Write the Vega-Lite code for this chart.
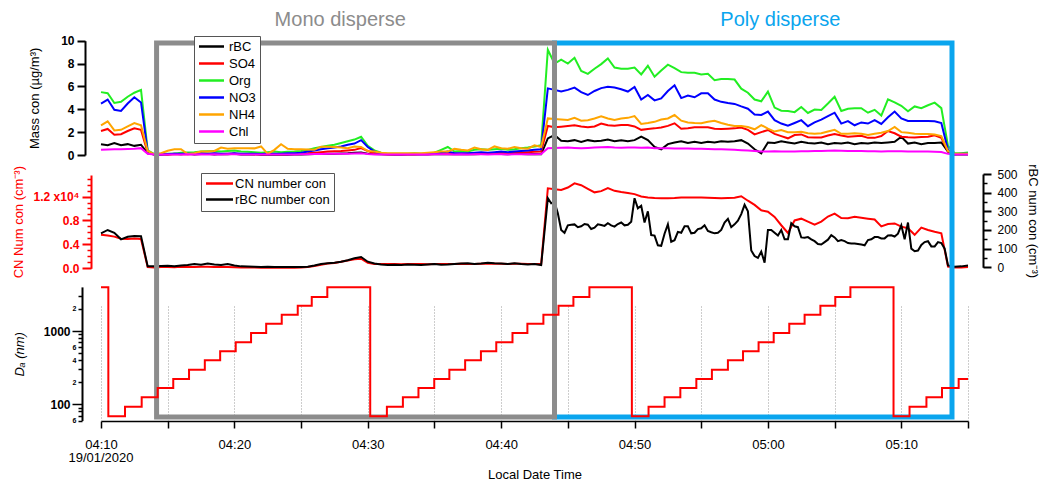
{
"autosize": "none",
"padding": {"left": 101, "top": 40, "right": 76, "bottom": 61},
"width": 867,
"height": 381,
"background": "white",
"encoding": {
"x": {"field": "t", "type": "temporal",
 "scale": {"domain": [{"year":2020,"month":1,"date":19,"hours":4,"minutes":10},{"year":2020,"month":1,"date":19,"hours":5,"minutes":15}], "nice": false},
 "axis": {"title": "Local Date Time",
  "values": [{"year":2020,"month":1,"date":19,"hours":4,"minutes":10},{"year":2020,"month":1,"date":19,"hours":4,"minutes":15},{"year":2020,"month":1,"date":19,"hours":4,"minutes":20},{"year":2020,"month":1,"date":19,"hours":4,"minutes":25},{"year":2020,"month":1,"date":19,"hours":4,"minutes":30},{"year":2020,"month":1,"date":19,"hours":4,"minutes":35},{"year":2020,"month":1,"date":19,"hours":4,"minutes":40},{"year":2020,"month":1,"date":19,"hours":4,"minutes":45},{"year":2020,"month":1,"date":19,"hours":4,"minutes":50},{"year":2020,"month":1,"date":19,"hours":4,"minutes":55},{"year":2020,"month":1,"date":19,"hours":5,"minutes":0},{"year":2020,"month":1,"date":19,"hours":5,"minutes":5},{"year":2020,"month":1,"date":19,"hours":5,"minutes":10},{"year":2020,"month":1,"date":19,"hours":5,"minutes":15}],
  "labelExpr": "minutes(datum.value) % 10 != 0 ? '' : timeFormat(datum.value, '%H:%M')",
  "grid": true, "gridDash": [1, 2], "gridColor": "#9a9a9a", "gridWidth": 1,
  "labelFontSize": 13, "labelFlush": false, "labelOverlap": false, "labelPadding": 10,
  "tickSize": 7, "tickWidth": 1.5, "domainWidth": 1.5,
  "titleFontSize": 13, "titleFontWeight": "normal", "titlePadding": 17}}
},
"layer": [
{
 "data": {"values": [
{"t":"2020-01-19T04:10:00","rBC":0.95,"SO4":2.1,"Org":5.5,"NO3":4.5,"NH4":2.6,"Chl":0.45},
{"t":"2020-01-19T04:10:30","rBC":0.85,"SO4":2.28,"Org":5.4,"NO3":4.85,"NH4":2.95,"Chl":0.48},
{"t":"2020-01-19T04:11:00","rBC":1.05,"SO4":1.78,"Org":4.55,"NO3":3.95,"NH4":2.15,"Chl":0.5},
{"t":"2020-01-19T04:11:30","rBC":0.85,"SO4":1.82,"Org":4.65,"NO3":3.85,"NH4":2.2,"Chl":0.5},
{"t":"2020-01-19T04:12:00","rBC":0.95,"SO4":2.1,"Org":5.1,"NO3":4.5,"NH4":2.5,"Chl":0.52},
{"t":"2020-01-19T04:12:30","rBC":0.8,"SO4":2.33,"Org":5.45,"NO3":5.05,"NH4":2.8,"Chl":0.55},
{"t":"2020-01-19T04:13:00","rBC":0.9,"SO4":2.2,"Org":5.7,"NO3":4.6,"NH4":2.6,"Chl":0.6},
{"t":"2020-01-19T04:13:30","rBC":0.15,"SO4":0.2,"Org":0.4,"NO3":0.3,"NH4":0.35,"Chl":0.1},
{"t":"2020-01-19T04:14:00","rBC":0.05,"SO4":0.05,"Org":0.08,"NO3":0.05,"NH4":0.05,"Chl":0.04},
{"t":"2020-01-19T04:14:30","rBC":0.08,"SO4":0.05,"Org":0.1,"NO3":0.05,"NH4":0.15,"Chl":0.04},
{"t":"2020-01-19T04:15:00","rBC":0.04,"SO4":0.05,"Org":0.1,"NO3":0.08,"NH4":0.37,"Chl":0.05},
{"t":"2020-01-19T04:15:30","rBC":0.1,"SO4":0.06,"Org":0.12,"NO3":0.1,"NH4":0.5,"Chl":0.05},
{"t":"2020-01-19T04:16:00","rBC":0.06,"SO4":0.08,"Org":0.2,"NO3":0.1,"NH4":0.5,"Chl":0.05},
{"t":"2020-01-19T04:16:30","rBC":0.12,"SO4":0.06,"Org":0.22,"NO3":0.12,"NH4":0.08,"Chl":0.06},
{"t":"2020-01-19T04:17:00","rBC":0.05,"SO4":0.08,"Org":0.25,"NO3":0.1,"NH4":0.15,"Chl":0.05},
{"t":"2020-01-19T04:17:30","rBC":0.08,"SO4":0.1,"Org":0.3,"NO3":0.15,"NH4":0.3,"Chl":0.06},
{"t":"2020-01-19T04:18:00","rBC":0.1,"SO4":0.08,"Org":0.32,"NO3":0.12,"NH4":0.3,"Chl":0.05},
{"t":"2020-01-19T04:18:30","rBC":0.05,"SO4":0.1,"Org":0.35,"NO3":0.15,"NH4":0.35,"Chl":0.06},
{"t":"2020-01-19T04:19:00","rBC":0.09,"SO4":0.08,"Org":0.3,"NO3":0.1,"NH4":0.65,"Chl":0.05},
{"t":"2020-01-19T04:19:30","rBC":0.06,"SO4":0.1,"Org":0.35,"NO3":0.12,"NH4":0.55,"Chl":0.06},
{"t":"2020-01-19T04:20:00","rBC":0.1,"SO4":0.1,"Org":0.4,"NO3":0.15,"NH4":0.58,"Chl":0.06},
{"t":"2020-01-19T04:20:30","rBC":0.05,"SO4":0.08,"Org":0.3,"NO3":0.12,"NH4":0.58,"Chl":0.05},
{"t":"2020-01-19T04:21:00","rBC":0.04,"SO4":0.08,"Org":0.28,"NO3":0.1,"NH4":0.6,"Chl":0.05},
{"t":"2020-01-19T04:21:30","rBC":0.06,"SO4":0.06,"Org":0.25,"NO3":0.1,"NH4":0.58,"Chl":0.04},
{"t":"2020-01-19T04:22:00","rBC":0.03,"SO4":0.06,"Org":0.2,"NO3":0.08,"NH4":0.75,"Chl":0.04},
{"t":"2020-01-19T04:22:30","rBC":0.05,"SO4":0.08,"Org":0.25,"NO3":0.1,"NH4":0.1,"Chl":0.05},
{"t":"2020-01-19T04:23:00","rBC":0.03,"SO4":0.08,"Org":0.3,"NO3":0.12,"NH4":0.45,"Chl":0.05},
{"t":"2020-01-19T04:23:30","rBC":0.04,"SO4":0.06,"Org":0.25,"NO3":0.1,"NH4":0.95,"Chl":0.04},
{"t":"2020-01-19T04:24:00","rBC":0.03,"SO4":0.08,"Org":0.28,"NO3":0.15,"NH4":0.55,"Chl":0.05},
{"t":"2020-01-19T04:24:30","rBC":0.05,"SO4":0.1,"Org":0.3,"NO3":0.15,"NH4":0.5,"Chl":0.05},
{"t":"2020-01-19T04:25:00","rBC":0.04,"SO4":0.12,"Org":0.35,"NO3":0.2,"NH4":0.5,"Chl":0.06},
{"t":"2020-01-19T04:25:30","rBC":0.06,"SO4":0.15,"Org":0.45,"NO3":0.3,"NH4":0.48,"Chl":0.07},
{"t":"2020-01-19T04:26:00","rBC":0.08,"SO4":0.2,"Org":0.6,"NO3":0.4,"NH4":0.45,"Chl":0.08},
{"t":"2020-01-19T04:26:30","rBC":0.1,"SO4":0.25,"Org":0.7,"NO3":0.5,"NH4":0.73,"Chl":0.09},
{"t":"2020-01-19T04:27:00","rBC":0.12,"SO4":0.3,"Org":0.82,"NO3":0.58,"NH4":0.72,"Chl":0.1},
{"t":"2020-01-19T04:27:30","rBC":0.1,"SO4":0.32,"Org":0.9,"NO3":0.65,"NH4":0.7,"Chl":0.1},
{"t":"2020-01-19T04:28:00","rBC":0.14,"SO4":0.35,"Org":1.05,"NO3":0.75,"NH4":0.65,"Chl":0.11},
{"t":"2020-01-19T04:28:30","rBC":0.15,"SO4":0.4,"Org":1.2,"NO3":0.9,"NH4":0.6,"Chl":0.12},
{"t":"2020-01-19T04:29:00","rBC":0.2,"SO4":0.45,"Org":1.35,"NO3":1.0,"NH4":0.75,"Chl":0.13},
{"t":"2020-01-19T04:29:30","rBC":0.22,"SO4":0.6,"Org":1.6,"NO3":1.3,"NH4":0.7,"Chl":0.15},
{"t":"2020-01-19T04:30:00","rBC":0.12,"SO4":0.35,"Org":0.8,"NO3":0.7,"NH4":0.35,"Chl":0.08},
{"t":"2020-01-19T04:30:30","rBC":0.08,"SO4":0.15,"Org":0.4,"NO3":0.3,"NH4":0.3,"Chl":0.05},
{"t":"2020-01-19T04:31:00","rBC":0.06,"SO4":0.08,"Org":0.2,"NO3":0.12,"NH4":0.2,"Chl":0.04},
{"t":"2020-01-19T04:31:30","rBC":0.05,"SO4":0.06,"Org":0.12,"NO3":0.08,"NH4":0.15,"Chl":0.05},
{"t":"2020-01-19T04:32:00","rBC":0.07,"SO4":0.05,"Org":0.1,"NO3":0.06,"NH4":0.15,"Chl":0.04},
{"t":"2020-01-19T04:32:30","rBC":0.05,"SO4":0.05,"Org":0.12,"NO3":0.06,"NH4":0.15,"Chl":0.05},
{"t":"2020-01-19T04:33:00","rBC":0.06,"SO4":0.06,"Org":0.12,"NO3":0.08,"NH4":0.15,"Chl":0.04},
{"t":"2020-01-19T04:33:30","rBC":0.05,"SO4":0.06,"Org":0.15,"NO3":0.08,"NH4":0.15,"Chl":0.05},
{"t":"2020-01-19T04:34:00","rBC":0.07,"SO4":0.06,"Org":0.12,"NO3":0.06,"NH4":0.15,"Chl":0.05},
{"t":"2020-01-19T04:34:30","rBC":0.06,"SO4":0.06,"Org":0.1,"NO3":0.06,"NH4":0.2,"Chl":0.05},
{"t":"2020-01-19T04:35:00","rBC":0.08,"SO4":0.08,"Org":0.2,"NO3":0.1,"NH4":0.25,"Chl":0.06},
{"t":"2020-01-19T04:35:30","rBC":0.06,"SO4":0.12,"Org":0.45,"NO3":0.2,"NH4":0.3,"Chl":0.06},
{"t":"2020-01-19T04:36:00","rBC":0.07,"SO4":0.15,"Org":0.7,"NO3":0.3,"NH4":0.3,"Chl":0.07},
{"t":"2020-01-19T04:36:30","rBC":0.08,"SO4":0.1,"Org":0.3,"NO3":0.15,"NH4":0.55,"Chl":0.05},
{"t":"2020-01-19T04:37:00","rBC":0.06,"SO4":0.12,"Org":0.35,"NO3":0.15,"NH4":0.45,"Chl":0.06},
{"t":"2020-01-19T04:37:30","rBC":0.09,"SO4":0.12,"Org":0.3,"NO3":0.15,"NH4":0.4,"Chl":0.05},
{"t":"2020-01-19T04:38:00","rBC":0.07,"SO4":0.15,"Org":0.45,"NO3":0.2,"NH4":0.65,"Chl":0.06},
{"t":"2020-01-19T04:38:30","rBC":0.08,"SO4":0.15,"Org":0.5,"NO3":0.25,"NH4":0.5,"Chl":0.06},
{"t":"2020-01-19T04:39:00","rBC":0.1,"SO4":0.15,"Org":0.45,"NO3":0.2,"NH4":0.45,"Chl":0.05},
{"t":"2020-01-19T04:39:30","rBC":0.08,"SO4":0.18,"Org":0.5,"NO3":0.25,"NH4":0.75,"Chl":0.06},
{"t":"2020-01-19T04:40:00","rBC":0.09,"SO4":0.2,"Org":0.55,"NO3":0.3,"NH4":0.6,"Chl":0.06},
{"t":"2020-01-19T04:40:30","rBC":0.07,"SO4":0.18,"Org":0.45,"NO3":0.25,"NH4":0.55,"Chl":0.05},
{"t":"2020-01-19T04:41:00","rBC":0.1,"SO4":0.2,"Org":0.5,"NO3":0.3,"NH4":0.7,"Chl":0.06},
{"t":"2020-01-19T04:41:30","rBC":0.08,"SO4":0.22,"Org":0.6,"NO3":0.35,"NH4":0.6,"Chl":0.06},
{"t":"2020-01-19T04:42:00","rBC":0.07,"SO4":0.25,"Org":0.65,"NO3":0.4,"NH4":0.55,"Chl":0.07},
{"t":"2020-01-19T04:42:30","rBC":0.09,"SO4":0.28,"Org":0.75,"NO3":0.45,"NH4":0.85,"Chl":0.07},
{"t":"2020-01-19T04:43:00","rBC":0.06,"SO4":0.3,"Org":0.85,"NO3":0.5,"NH4":0.7,"Chl":0.08},
{"t":"2020-01-19T04:43:30","rBC":1.45,"SO4":2.54,"Org":9.2,"NO3":5.83,"NH4":3.2,"Chl":0.6},
{"t":"2020-01-19T04:44:00","rBC":1.75,"SO4":2.42,"Org":8.0,"NO3":5.7,"NH4":3.15,"Chl":0.62},
{"t":"2020-01-19T04:44:30","rBC":1.25,"SO4":2.48,"Org":8.35,"NO3":5.55,"NH4":3.1,"Chl":0.63},
{"t":"2020-01-19T04:45:00","rBC":1.2,"SO4":2.54,"Org":8.0,"NO3":5.7,"NH4":3.06,"Chl":0.65},
{"t":"2020-01-19T04:45:30","rBC":1.3,"SO4":2.6,"Org":8.5,"NO3":5.9,"NH4":3.25,"Chl":0.62},
{"t":"2020-01-19T04:46:00","rBC":1.15,"SO4":2.5,"Org":7.35,"NO3":5.5,"NH4":3.0,"Chl":0.6},
{"t":"2020-01-19T04:46:30","rBC":1.3,"SO4":2.42,"Org":7.1,"NO3":5.25,"NH4":3.05,"Chl":0.62},
{"t":"2020-01-19T04:47:00","rBC":1.2,"SO4":2.5,"Org":7.55,"NO3":5.6,"NH4":3.2,"Chl":0.65},
{"t":"2020-01-19T04:47:30","rBC":1.25,"SO4":2.75,"Org":7.95,"NO3":5.85,"NH4":3.38,"Chl":0.68},
{"t":"2020-01-19T04:48:00","rBC":1.35,"SO4":2.6,"Org":8.45,"NO3":5.98,"NH4":3.2,"Chl":0.7},
{"t":"2020-01-19T04:48:30","rBC":1.2,"SO4":2.55,"Org":7.65,"NO3":5.9,"NH4":3.06,"Chl":0.66},
{"t":"2020-01-19T04:49:00","rBC":1.3,"SO4":2.62,"Org":7.55,"NO3":5.75,"NH4":3.2,"Chl":0.64},
{"t":"2020-01-19T04:49:30","rBC":1.2,"SO4":2.62,"Org":7.55,"NO3":5.55,"NH4":3.25,"Chl":0.65},
{"t":"2020-01-19T04:50:00","rBC":1.3,"SO4":2.5,"Org":7.65,"NO3":5.95,"NH4":3.4,"Chl":0.66},
{"t":"2020-01-19T04:50:30","rBC":1.6,"SO4":2.2,"Org":7.05,"NO3":4.85,"NH4":2.72,"Chl":0.64},
{"t":"2020-01-19T04:51:00","rBC":1.3,"SO4":2.28,"Org":7.8,"NO3":5.25,"NH4":2.8,"Chl":0.65},
{"t":"2020-01-19T04:51:30","rBC":0.7,"SO4":2.33,"Org":6.85,"NO3":4.78,"NH4":2.9,"Chl":0.6},
{"t":"2020-01-19T04:52:00","rBC":0.5,"SO4":2.4,"Org":7.4,"NO3":4.95,"NH4":3.1,"Chl":0.6},
{"t":"2020-01-19T04:52:30","rBC":0.95,"SO4":2.55,"Org":7.9,"NO3":5.6,"NH4":3.2,"Chl":0.58},
{"t":"2020-01-19T04:53:00","rBC":1.1,"SO4":2.77,"Org":7.6,"NO3":6.1,"NH4":3.5,"Chl":0.57},
{"t":"2020-01-19T04:53:30","rBC":1.2,"SO4":2.3,"Org":7.25,"NO3":4.98,"NH4":3.0,"Chl":0.56},
{"t":"2020-01-19T04:54:00","rBC":1.05,"SO4":2.35,"Org":7.2,"NO3":5.2,"NH4":2.85,"Chl":0.56},
{"t":"2020-01-19T04:54:30","rBC":1.15,"SO4":2.42,"Org":7.2,"NO3":5.05,"NH4":2.8,"Chl":0.55},
{"t":"2020-01-19T04:55:00","rBC":1.05,"SO4":2.42,"Org":7.05,"NO3":5.4,"NH4":2.77,"Chl":0.55},
{"t":"2020-01-19T04:55:30","rBC":1.15,"SO4":2.42,"Org":7.1,"NO3":5.4,"NH4":2.9,"Chl":0.52},
{"t":"2020-01-19T04:56:00","rBC":1.1,"SO4":2.3,"Org":6.55,"NO3":4.85,"NH4":3.0,"Chl":0.5},
{"t":"2020-01-19T04:56:30","rBC":1.2,"SO4":2.28,"Org":6.65,"NO3":4.65,"NH4":2.8,"Chl":0.5},
{"t":"2020-01-19T04:57:00","rBC":1.15,"SO4":2.3,"Org":6.65,"NO3":4.55,"NH4":2.65,"Chl":0.48},
{"t":"2020-01-19T04:57:30","rBC":1.2,"SO4":2.33,"Org":6.6,"NO3":4.47,"NH4":2.54,"Chl":0.45},
{"t":"2020-01-19T04:58:00","rBC":1.3,"SO4":2.4,"Org":5.8,"NO3":4.25,"NH4":2.54,"Chl":0.42},
{"t":"2020-01-19T04:58:30","rBC":1.0,"SO4":2.2,"Org":5.45,"NO3":4.05,"NH4":2.45,"Chl":0.4},
{"t":"2020-01-19T04:59:00","rBC":0.5,"SO4":1.8,"Org":4.85,"NO3":3.55,"NH4":2.25,"Chl":0.35},
{"t":"2020-01-19T04:59:30","rBC":0.15,"SO4":2.0,"Org":4.7,"NO3":3.5,"NH4":2.62,"Chl":0.3},
{"t":"2020-01-19T05:00:00","rBC":1.1,"SO4":2.19,"Org":5.55,"NO3":3.8,"NH4":2.3,"Chl":0.3},
{"t":"2020-01-19T05:00:30","rBC":1.05,"SO4":1.85,"Org":4.15,"NO3":3.05,"NH4":2.05,"Chl":0.32},
{"t":"2020-01-19T05:01:00","rBC":1.2,"SO4":1.65,"Org":3.87,"NO3":2.75,"NH4":2.19,"Chl":0.3},
{"t":"2020-01-19T05:01:30","rBC":1.1,"SO4":1.46,"Org":3.85,"NO3":2.56,"NH4":2.0,"Chl":0.3},
{"t":"2020-01-19T05:02:00","rBC":1.0,"SO4":1.75,"Org":3.75,"NO3":2.8,"NH4":1.98,"Chl":0.3},
{"t":"2020-01-19T05:02:30","rBC":1.15,"SO4":1.8,"Org":4.2,"NO3":3.05,"NH4":2.04,"Chl":0.32},
{"t":"2020-01-19T05:03:00","rBC":1.05,"SO4":1.56,"Org":3.68,"NO3":2.52,"NH4":1.9,"Chl":0.33},
{"t":"2020-01-19T05:03:30","rBC":1.0,"SO4":1.54,"Org":3.98,"NO3":2.85,"NH4":1.86,"Chl":0.34},
{"t":"2020-01-19T05:04:00","rBC":1.1,"SO4":1.54,"Org":3.94,"NO3":3.1,"NH4":1.9,"Chl":0.35},
{"t":"2020-01-19T05:04:30","rBC":0.95,"SO4":1.7,"Org":4.5,"NO3":3.4,"NH4":2.05,"Chl":0.38},
{"t":"2020-01-19T05:05:00","rBC":1.05,"SO4":1.84,"Org":5.1,"NO3":3.7,"NH4":2.2,"Chl":0.4},
{"t":"2020-01-19T05:05:30","rBC":1.0,"SO4":1.7,"Org":3.85,"NO3":2.75,"NH4":1.85,"Chl":0.38},
{"t":"2020-01-19T05:06:00","rBC":1.1,"SO4":1.6,"Org":4.05,"NO3":2.97,"NH4":1.85,"Chl":0.36},
{"t":"2020-01-19T05:06:30","rBC":0.95,"SO4":1.65,"Org":4.08,"NO3":2.6,"NH4":1.9,"Chl":0.35},
{"t":"2020-01-19T05:07:00","rBC":1.05,"SO4":1.69,"Org":4.09,"NO3":2.85,"NH4":1.85,"Chl":0.34},
{"t":"2020-01-19T05:07:30","rBC":1.0,"SO4":1.5,"Org":3.7,"NO3":2.75,"NH4":1.76,"Chl":0.33},
{"t":"2020-01-19T05:08:00","rBC":1.1,"SO4":1.5,"Org":3.95,"NO3":3.05,"NH4":1.85,"Chl":0.32},
{"t":"2020-01-19T05:08:30","rBC":1.05,"SO4":1.66,"Org":3.45,"NO3":2.72,"NH4":1.95,"Chl":0.3},
{"t":"2020-01-19T05:09:00","rBC":1.1,"SO4":2.1,"Org":4.87,"NO3":3.3,"NH4":2.1,"Chl":0.32},
{"t":"2020-01-19T05:09:30","rBC":1.15,"SO4":1.9,"Org":4.6,"NO3":3.8,"NH4":2.45,"Chl":0.33},
{"t":"2020-01-19T05:10:00","rBC":1.6,"SO4":1.6,"Org":4.3,"NO3":3.2,"NH4":2.0,"Chl":0.32},
{"t":"2020-01-19T05:10:30","rBC":1.0,"SO4":1.56,"Org":3.82,"NO3":2.97,"NH4":1.95,"Chl":0.3},
{"t":"2020-01-19T05:11:00","rBC":1.1,"SO4":1.54,"Org":4.25,"NO3":2.97,"NH4":1.85,"Chl":0.3},
{"t":"2020-01-19T05:11:30","rBC":0.95,"SO4":1.57,"Org":4.1,"NO3":2.97,"NH4":1.84,"Chl":0.3},
{"t":"2020-01-19T05:12:00","rBC":1.05,"SO4":1.6,"Org":4.35,"NO3":2.97,"NH4":1.84,"Chl":0.3},
{"t":"2020-01-19T05:12:30","rBC":1.05,"SO4":1.72,"Org":4.58,"NO3":2.95,"NH4":1.8,"Chl":0.28},
{"t":"2020-01-19T05:13:00","rBC":1.1,"SO4":1.5,"Org":4.1,"NO3":2.8,"NH4":1.66,"Chl":0.26},
{"t":"2020-01-19T05:13:30","rBC":0.3,"SO4":0.3,"Org":0.8,"NO3":0.45,"NH4":0.35,"Chl":0.1},
{"t":"2020-01-19T05:14:00","rBC":0.05,"SO4":0.08,"Org":0.15,"NO3":0.06,"NH4":0.1,"Chl":0.05},
{"t":"2020-01-19T05:14:30","rBC":0.05,"SO4":0.08,"Org":0.15,"NO3":0.1,"NH4":0.1,"Chl":0.05},
{"t":"2020-01-19T05:15:00","rBC":0.05,"SO4":0.08,"Org":0.22,"NO3":0.1,"NH4":0.1,"Chl":0.05}
 ]},
 "transform": [{"fold": ["rBC","SO4","Org","NO3","NH4","Chl"], "as": ["species","v"]}],
 "mark": {"type": "line", "strokeWidth": 2},
 "encoding": {
  "y": {"field": "v", "type": "quantitative", "scale": {"domain": [0, 10], "range": [115, 0.7], "nice": false},
   "axis": {"orient": "left", "offset": 16, "values": [0,2,4,6,8,10], "title": "Mass con (µg/m³)", "titleFontSize": 13, "titleFontWeight": "normal", "titlePadding": 19,
    "labelFontSize": 12, "labelFontWeight": "bold", "labelPadding": 3, "tickSize": 8, "tickWidth": 2, "domainWidth": 2, "grid": false, "labelOverlap": false}},
  "color": {"field": "species", "type": "nominal",
   "scale": {"domain": ["rBC","SO4","Org","NO3","NH4","Chl"], "range": ["#000000","#ff0000","#22ee22","#0000ff","#ffa500","#ff00ff"]},
   "legend": {"orient": "none", "legendX": 93, "legendY": -4, "title": null, "symbolType": "M-2.5,0H2.5", "symbolSize": 100, "symbolStrokeWidth": 2.5, "symbolOffset": 7,
    "labelFontSize": 13, "labelOffset": 11, "rowPadding": 3, "padding": 4, "strokeColor": "#555555", "fillColor": "white"}}
 }
},
{
 "data": {"values": [
{"t":"2020-01-19T04:10:00","CN":5600,"rBCn":182},{"t":"2020-01-19T04:10:30","CN":5500,"rBCn":200},{"t":"2020-01-19T04:11:00","CN":5300,"rBCn":185},{"t":"2020-01-19T04:11:30","CN":4950,"rBCn":150},
{"t":"2020-01-19T04:12:00","CN":4900,"rBCn":164},{"t":"2020-01-19T04:12:30","CN":5000,"rBCn":168},{"t":"2020-01-19T04:13:00","CN":4900,"rBCn":166},{"t":"2020-01-19T04:13:30","CN":200,"rBCn":5},
{"t":"2020-01-19T04:14:00","CN":150,"rBCn":5},{"t":"2020-01-19T04:14:30","CN":200,"rBCn":7},{"t":"2020-01-19T04:15:00","CN":220,"rBCn":8},{"t":"2020-01-19T04:15:30","CN":180,"rBCn":6},
{"t":"2020-01-19T04:16:00","CN":250,"rBCn":10},{"t":"2020-01-19T04:16:30","CN":200,"rBCn":12},{"t":"2020-01-19T04:17:00","CN":230,"rBCn":18},{"t":"2020-01-19T04:17:30","CN":260,"rBCn":14},
{"t":"2020-01-19T04:18:00","CN":240,"rBCn":20},{"t":"2020-01-19T04:18:30","CN":220,"rBCn":15},{"t":"2020-01-19T04:19:00","CN":200,"rBCn":12},{"t":"2020-01-19T04:19:30","CN":230,"rBCn":18},
{"t":"2020-01-19T04:20:00","CN":180,"rBCn":10},{"t":"2020-01-19T04:20:30","CN":150,"rBCn":5},{"t":"2020-01-19T04:21:00","CN":130,"rBCn":4},{"t":"2020-01-19T04:21:30","CN":120,"rBCn":3},
{"t":"2020-01-19T04:22:00","CN":110,"rBCn":2},{"t":"2020-01-19T04:22:30","CN":100,"rBCn":3},{"t":"2020-01-19T04:23:00","CN":100,"rBCn":2},{"t":"2020-01-19T04:23:30","CN":90,"rBCn":1},
{"t":"2020-01-19T04:24:00","CN":90,"rBCn":1},{"t":"2020-01-19T04:24:30","CN":100,"rBCn":1},{"t":"2020-01-19T04:25:00","CN":120,"rBCn":1},{"t":"2020-01-19T04:25:30","CN":200,"rBCn":3},
{"t":"2020-01-19T04:26:00","CN":400,"rBCn":10},{"t":"2020-01-19T04:26:30","CN":600,"rBCn":18},{"t":"2020-01-19T04:27:00","CN":800,"rBCn":22},{"t":"2020-01-19T04:27:30","CN":900,"rBCn":25},
{"t":"2020-01-19T04:28:00","CN":1100,"rBCn":30},{"t":"2020-01-19T04:28:30","CN":1300,"rBCn":38},{"t":"2020-01-19T04:29:00","CN":1500,"rBCn":48},{"t":"2020-01-19T04:29:30","CN":1600,"rBCn":55},
{"t":"2020-01-19T04:30:00","CN":900,"rBCn":30},{"t":"2020-01-19T04:30:30","CN":700,"rBCn":20},{"t":"2020-01-19T04:31:00","CN":700,"rBCn":15},{"t":"2020-01-19T04:31:30","CN":720,"rBCn":12},
{"t":"2020-01-19T04:32:00","CN":700,"rBCn":14},{"t":"2020-01-19T04:32:30","CN":680,"rBCn":12},{"t":"2020-01-19T04:33:00","CN":700,"rBCn":15},{"t":"2020-01-19T04:33:30","CN":720,"rBCn":14},
{"t":"2020-01-19T04:34:00","CN":700,"rBCn":12},{"t":"2020-01-19T04:34:30","CN":690,"rBCn":15},{"t":"2020-01-19T04:35:00","CN":710,"rBCn":18},{"t":"2020-01-19T04:35:30","CN":720,"rBCn":14},
{"t":"2020-01-19T04:36:00","CN":700,"rBCn":15},{"t":"2020-01-19T04:36:30","CN":720,"rBCn":18},{"t":"2020-01-19T04:37:00","CN":740,"rBCn":20},{"t":"2020-01-19T04:37:30","CN":730,"rBCn":22},
{"t":"2020-01-19T04:38:00","CN":720,"rBCn":18},{"t":"2020-01-19T04:38:30","CN":740,"rBCn":20},{"t":"2020-01-19T04:39:00","CN":760,"rBCn":25},{"t":"2020-01-19T04:39:30","CN":750,"rBCn":22},
{"t":"2020-01-19T04:40:00","CN":740,"rBCn":20},{"t":"2020-01-19T04:40:30","CN":730,"rBCn":18},{"t":"2020-01-19T04:41:00","CN":760,"rBCn":22},{"t":"2020-01-19T04:41:30","CN":740,"rBCn":18},
{"t":"2020-01-19T04:42:00","CN":720,"rBCn":15},{"t":"2020-01-19T04:42:30","CN":730,"rBCn":18},{"t":"2020-01-19T04:43:00","CN":700,"rBCn":12},{"t":"2020-01-19T04:43:30","CN":13375,"rBCn":370},
{"t":"2020-01-19T04:44:00","CN":13200,"rBCn":350},{"t":"2020-01-19T04:44:30","CN":13100,"rBCn":200},{"t":"2020-01-19T04:45:00","CN":13500,"rBCn":225},{"t":"2020-01-19T04:45:30","CN":14200,"rBCn":230},
{"t":"2020-01-19T04:46:00","CN":13900,"rBCn":220},{"t":"2020-01-19T04:46:30","CN":13300,"rBCn":228},{"t":"2020-01-19T04:47:00","CN":12700,"rBCn":212},{"t":"2020-01-19T04:47:30","CN":12900,"rBCn":227},
{"t":"2020-01-19T04:48:00","CN":13400,"rBCn":236},{"t":"2020-01-19T04:48:30","CN":12950,"rBCn":218},{"t":"2020-01-19T04:49:00","CN":12750,"rBCn":240},{"t":"2020-01-19T04:49:30","CN":12600,"rBCn":228},
{"t":"2020-01-19T04:50:00","CN":12400,"rBCn":370},{"t":"2020-01-19T04:50:30","CN":12000,"rBCn":330},{"t":"2020-01-19T04:51:00","CN":11850,"rBCn":300},{"t":"2020-01-19T04:51:30","CN":11750,"rBCn":170},
{"t":"2020-01-19T04:52:00","CN":11700,"rBCn":115},{"t":"2020-01-19T04:52:30","CN":11700,"rBCn":230},{"t":"2020-01-19T04:53:00","CN":11750,"rBCn":145},{"t":"2020-01-19T04:53:30","CN":11850,"rBCn":185},
{"t":"2020-01-19T04:54:00","CN":11850,"rBCn":220},{"t":"2020-01-19T04:54:30","CN":11850,"rBCn":185},{"t":"2020-01-19T04:55:00","CN":11850,"rBCn":209},{"t":"2020-01-19T04:55:30","CN":11800,"rBCn":195},
{"t":"2020-01-19T04:56:00","CN":11750,"rBCn":182},{"t":"2020-01-19T04:56:30","CN":11700,"rBCn":200},{"t":"2020-01-19T04:57:00","CN":11750,"rBCn":260},{"t":"2020-01-19T04:57:30","CN":11800,"rBCn":230},
{"t":"2020-01-19T04:58:00","CN":12050,"rBCn":285},{"t":"2020-01-19T04:58:30","CN":11300,"rBCn":300},{"t":"2020-01-19T04:59:00","CN":10600,"rBCn":60},{"t":"2020-01-19T04:59:30","CN":9700,"rBCn":84},
{"t":"2020-01-19T05:00:00","CN":9450,"rBCn":200},{"t":"2020-01-19T05:00:30","CN":8600,"rBCn":185},{"t":"2020-01-19T05:01:00","CN":7200,"rBCn":200},{"t":"2020-01-19T05:01:30","CN":5900,"rBCn":150},
{"t":"2020-01-19T05:02:00","CN":8000,"rBCn":220},{"t":"2020-01-19T05:02:30","CN":8300,"rBCn":160},{"t":"2020-01-19T05:03:00","CN":7800,"rBCn":162},{"t":"2020-01-19T05:03:30","CN":7300,"rBCn":140},
{"t":"2020-01-19T05:04:00","CN":7800,"rBCn":122},{"t":"2020-01-19T05:04:30","CN":8650,"rBCn":148},{"t":"2020-01-19T05:05:00","CN":9150,"rBCn":160},{"t":"2020-01-19T05:05:30","CN":8400,"rBCn":146},
{"t":"2020-01-19T05:06:00","CN":8360,"rBCn":130},{"t":"2020-01-19T05:06:30","CN":8600,"rBCn":128},{"t":"2020-01-19T05:07:00","CN":8450,"rBCn":122},{"t":"2020-01-19T05:07:30","CN":8300,"rBCn":146},
{"t":"2020-01-19T05:08:00","CN":8150,"rBCn":162},{"t":"2020-01-19T05:08:30","CN":7000,"rBCn":155},{"t":"2020-01-19T05:09:00","CN":7400,"rBCn":170},{"t":"2020-01-19T05:09:30","CN":7500,"rBCn":165},
{"t":"2020-01-19T05:10:00","CN":6960,"rBCn":225},{"t":"2020-01-19T05:10:30","CN":6700,"rBCn":240},{"t":"2020-01-19T05:11:00","CN":5600,"rBCn":86},{"t":"2020-01-19T05:11:30","CN":6800,"rBCn":120},
{"t":"2020-01-19T05:12:00","CN":6400,"rBCn":140},{"t":"2020-01-19T05:12:30","CN":6100,"rBCn":112},{"t":"2020-01-19T05:13:00","CN":5850,"rBCn":130},{"t":"2020-01-19T05:13:30","CN":300,"rBCn":10},
{"t":"2020-01-19T05:14:00","CN":150,"rBCn":3},{"t":"2020-01-19T05:14:30","CN":150,"rBCn":5},{"t":"2020-01-19T05:15:00","CN":220,"rBCn":10},
{"t":"2020-01-19T04:43:45","rBCn":343},{"t":"2020-01-19T04:44:15","rBCn":290},{"t":"2020-01-19T04:44:45","rBCn":185},{"t":"2020-01-19T04:45:15","rBCn":228},
{"t":"2020-01-19T04:45:45","rBCn":215},{"t":"2020-01-19T04:46:15","rBCn":232},{"t":"2020-01-19T04:46:45","rBCn":205},{"t":"2020-01-19T04:47:15","rBCn":230},
{"t":"2020-01-19T04:47:45","rBCn":222},{"t":"2020-01-19T04:48:15","rBCn":225},{"t":"2020-01-19T04:48:45","rBCn":232},{"t":"2020-01-19T04:49:15","rBCn":225},
{"t":"2020-01-19T04:49:45","rBCn":244},{"t":"2020-01-19T04:50:15","rBCn":316},{"t":"2020-01-19T04:50:45","rBCn":240},{"t":"2020-01-19T04:51:15","rBCn":173},
{"t":"2020-01-19T04:51:45","rBCn":118},{"t":"2020-01-19T04:52:15","rBCn":180},{"t":"2020-01-19T04:52:45","rBCn":137},{"t":"2020-01-19T04:53:15","rBCn":190},
{"t":"2020-01-19T04:53:45","rBCn":220},{"t":"2020-01-19T04:54:15","rBCn":182},{"t":"2020-01-19T04:54:45","rBCn":205},{"t":"2020-01-19T04:55:15","rBCn":225},
{"t":"2020-01-19T04:55:45","rBCn":188},{"t":"2020-01-19T04:56:15","rBCn":185},{"t":"2020-01-19T04:56:45","rBCn":240},{"t":"2020-01-19T04:57:15","rBCn":215},
{"t":"2020-01-19T04:57:45","rBCn":250},{"t":"2020-01-19T04:58:15","rBCn":335},{"t":"2020-01-19T04:58:45","rBCn":90},{"t":"2020-01-19T04:59:15","rBCn":50},
{"t":"2020-01-19T04:59:45","rBCn":25},{"t":"2020-01-19T05:00:15","rBCn":200},{"t":"2020-01-19T05:00:45","rBCn":170},{"t":"2020-01-19T05:01:15","rBCn":150},
{"t":"2020-01-19T05:01:45","rBCn":236},{"t":"2020-01-19T05:02:15","rBCn":215},{"t":"2020-01-19T05:02:45","rBCn":158},{"t":"2020-01-19T05:03:15","rBCn":150},
{"t":"2020-01-19T05:03:45","rBCn":125},{"t":"2020-01-19T05:04:15","rBCn":135},{"t":"2020-01-19T05:04:45","rBCn":172},{"t":"2020-01-19T05:05:15","rBCn":140},
{"t":"2020-01-19T05:05:45","rBCn":140},{"t":"2020-01-19T05:06:15","rBCn":128},{"t":"2020-01-19T05:06:45","rBCn":125},{"t":"2020-01-19T05:07:15","rBCn":118},
{"t":"2020-01-19T05:07:45","rBCn":150},{"t":"2020-01-19T05:08:15","rBCn":162},{"t":"2020-01-19T05:08:45","rBCn":155},{"t":"2020-01-19T05:09:15","rBCn":172},
{"t":"2020-01-19T05:09:45","rBCn":180},{"t":"2020-01-19T05:10:15","rBCn":150},{"t":"2020-01-19T05:10:45","rBCn":100},{"t":"2020-01-19T05:11:15","rBCn":90},
{"t":"2020-01-19T05:11:45","rBCn":135},{"t":"2020-01-19T05:12:15","rBCn":112},{"t":"2020-01-19T05:12:45","rBCn":135},{"t":"2020-01-19T05:13:15","rBCn":100}
 ]},
 "layer": [
  {"transform": [{"filter": "isValid(datum.CN)"}],
   "mark": {"type": "line", "strokeWidth": 2},
   "encoding": {
    "y": {"field": "CN", "type": "quantitative", "scale": {"domain": [0, 15600], "range": [228.3, 135], "nice": false},
     "axis": {"orient": "left", "offset": 10, "values": [0,4000,8000,12000],
      "labelExpr": "datum.value == 0 ? '0.0' : datum.value == 4000 ? '0.4' : datum.value == 8000 ? '0.8' : '1.2 x10⁴'",
      "title": "CN Num con (cm⁻³)", "titleColor": "#ff0000", "titleFontSize": 13, "titleFontWeight": "normal", "titlePadding": 8,
      "labelColor": "#ff0000", "tickColor": "#ff0000", "domainColor": "#ff0000", "labelFontSize": 12, "labelFontWeight": "bold", "labelPadding": 3,
      "tickSize": 9, "tickWidth": 2, "domainWidth": 2, "grid": false, "labelOverlap": false}},
    "color": {"datum": "CN number con", "type": "nominal",
     "scale": {"domain": ["CN number con", "rBC number con"], "range": ["#ff0000", "#000000"]},
     "legend": {"orient": "none", "legendX": 100, "legendY": 133, "title": null, "symbolType": "M-2.7,0H2.7", "symbolSize": 100, "symbolStrokeWidth": 2.5, "symbolOffset": 8,
      "labelFontSize": 13, "labelOffset": 9, "rowPadding": 2, "padding": 4, "strokeColor": "#555555", "fillColor": "white"}}
   }},
  {"mark": {"type": "line", "strokeWidth": 2},
   "encoding": {
    "y": {"field": "rBCn", "type": "quantitative", "scale": {"domain": [0, 500], "range": [227.3, 134], "nice": false},
     "axis": {"orient": "right", "offset": 15, "values": [0,100,200,300,400,500],
      "title": "rBC num con (cm⁻³)", "titleFontSize": 13, "titleFontWeight": "normal", "titlePadding": 8,
      "labelFontSize": 12, "labelPadding": 6,
      "tickSize": 8, "tickWidth": 2, "domainWidth": 2, "grid": false, "labelOverlap": false}},
    "color": {"datum": "rBC number con", "type": "nominal"}
   }}
 ],
 "resolve": {"scale": {"y": "independent"}}
},
{
 "data": {"values": [{"t": "2020-01-19T04:44:00", "t2": "2020-01-19T05:13:48", "f": "Poly"}, {"t": "2020-01-19T04:14:10", "t2": "2020-01-19T04:44:00", "f": "Mono"}]},
 "mark": {"type": "rect", "filled": false, "strokeWidth": 5},
 "encoding": {
  "x2": {"field": "t2"},
  "y": {"datum": 0, "type": "quantitative", "scale": {"domain": [0, 1], "range": [377, 3], "nice": false}, "axis": null},
  "y2": {"datum": 1},
  "color": {"field": "f", "type": "nominal", "scale": {"domain": ["Mono", "Poly"], "range": ["#8c8c8c", "#0aa5ee"]}, "legend": null}
 }
},
{
 "data": {"values": [
{"t":"2020-01-19T04:10:00","Da":3946},{"t":"2020-01-19T04:10:33","Da":69},{"t":"2020-01-19T04:11:48","Da":93},{"t":"2020-01-19T04:13:03","Da":125},{"t":"2020-01-19T04:14:15","Da":167},
{"t":"2020-01-19T04:15:25","Da":221},{"t":"2020-01-19T04:16:36","Da":296},{"t":"2020-01-19T04:17:47","Da":398},{"t":"2020-01-19T04:18:56","Da":528},{"t":"2020-01-19T04:20:06","Da":701},
{"t":"2020-01-19T04:21:15","Da":940},{"t":"2020-01-19T04:22:23","Da":1258},{"t":"2020-01-19T04:23:33","Da":1668},{"t":"2020-01-19T04:24:45","Da":2214},{"t":"2020-01-19T04:25:48","Da":2910},
{"t":"2020-01-19T04:26:58","Da":3946},{"t":"2020-01-19T04:30:11","Da":69},{"t":"2020-01-19T04:31:26","Da":93},{"t":"2020-01-19T04:32:38","Da":125},{"t":"2020-01-19T04:33:48","Da":167},
{"t":"2020-01-19T04:34:59","Da":221},{"t":"2020-01-19T04:36:07","Da":296},{"t":"2020-01-19T04:37:18","Da":398},{"t":"2020-01-19T04:38:29","Da":528},{"t":"2020-01-19T04:39:38","Da":701},
{"t":"2020-01-19T04:40:51","Da":940},{"t":"2020-01-19T04:41:58","Da":1258},{"t":"2020-01-19T04:43:10","Da":1668},{"t":"2020-01-19T04:44:18","Da":2214},{"t":"2020-01-19T04:45:25","Da":2910},
{"t":"2020-01-19T04:46:37","Da":3946},{"t":"2020-01-19T04:49:48","Da":69},{"t":"2020-01-19T04:51:03","Da":93},{"t":"2020-01-19T04:52:15","Da":125},{"t":"2020-01-19T04:53:26","Da":167},
{"t":"2020-01-19T04:54:38","Da":221},{"t":"2020-01-19T04:55:48","Da":296},{"t":"2020-01-19T04:57:00","Da":398},{"t":"2020-01-19T04:58:08","Da":528},{"t":"2020-01-19T04:59:18","Da":701},
{"t":"2020-01-19T05:00:26","Da":940},{"t":"2020-01-19T05:01:36","Da":1258},{"t":"2020-01-19T05:02:45","Da":1668},{"t":"2020-01-19T05:03:56","Da":2214},{"t":"2020-01-19T05:05:03","Da":2910},
{"t":"2020-01-19T05:06:11","Da":3946},{"t":"2020-01-19T05:09:25","Da":69},{"t":"2020-01-19T05:10:37","Da":93},{"t":"2020-01-19T05:11:53","Da":125},{"t":"2020-01-19T05:13:03","Da":167},
{"t":"2020-01-19T05:14:18","Da":221},{"t":"2020-01-19T05:15:00","Da":221}
 ]},
 "mark": {"type": "line", "interpolate": "step-after", "color": "#ff0000", "strokeWidth": 2},
 "encoding": {
  "y": {"field": "Da", "type": "quantitative", "scale": {"type": "log", "domain": [60, 4000], "range": [380.6, 246.9], "nice": false},
   "axis": {"orient": "left", "offset": 19, "values": [100, 1000], "labelExpr": "datum.value == 100 ? '100' : '1000'",
    "title": "Dₐ (nm)", "titleFontStyle": "italic", "titleFontSize": 13, "titleFontWeight": "normal", "titlePadding": 17,
    "labelFontSize": 12, "labelFontWeight": "bold", "labelPadding": 2, "tickSize": 10,
    "tickWidth": 1.5, "domainWidth": 2, "grid": false, "labelOverlap": false}}
 }
},
{
 "data": {"values": [{"t": "2020-01-19T04:10:00", "Da": 100}]},
 "mark": {"type": "point", "opacity": 0},
 "encoding": {
  "y": {"field": "Da", "type": "quantitative", "scale": {"type": "log", "domain": [60, 4000], "range": [380.6, 246.9], "nice": false},
   "axis": {"orient": "left", "offset": 19, "values": [60,70,80,90,200,300,400,500,600,700,800,900,2000,3000],
    "labelExpr": "datum.value == 60 || datum.value == 600 ? '6' : datum.value == 200 || datum.value == 2000 ? '2' : datum.value == 400 ? '4' : ''",
    "title": null, "domain": false, "labelFontSize": 7, "labelFontWeight": "bold", "labelPadding": 2, "tickSize": 4,
    "tickWidth": 1.5, "grid": false, "labelOverlap": false}}
 }
},
{
 "data": {"values": [{"t": "2020-01-19T04:10:00", "CN": 0}]},
 "mark": {"type": "point", "opacity": 0},
 "encoding": {
  "y": {"field": "CN", "type": "quantitative", "scale": {"domain": [0, 15600], "range": [228.3, 135], "nice": false},
   "axis": {"orient": "left", "offset": 10, "values": [1000,2000,3000,5000,6000,7000,9000,10000,11000,13000,14000,15000],
    "labels": false, "title": null, "domain": false, "tickColor": "#ff0000", "tickSize": 4, "tickWidth": 1.5, "grid": false}}
 }
},
{
 "data": {"values": [{"t": "2020-01-19T04:10:00", "rBCn": 0}]},
 "mark": {"type": "point", "opacity": 0},
 "encoding": {
  "y": {"field": "rBCn", "type": "quantitative", "scale": {"domain": [0, 500], "range": [227.3, 134], "nice": false},
   "axis": {"orient": "right", "offset": 15, "values": [50,150,250,350,450],
    "labels": false, "title": null, "domain": false, "tickSize": 4, "tickWidth": 1.5, "grid": false}}
 }
},
{
 "data": {"values": [{"t": "2020-01-19T04:27:56", "label": "Mono disperse", "f": "Mono"}, {"t": "2020-01-19T05:00:56", "label": "Poly disperse", "f": "Poly"}]},
 "mark": {"type": "text", "fontSize": 20, "align": "center", "baseline": "middle"},
 "encoding": {
  "y": {"datum": 1.0615, "type": "quantitative", "scale": {"domain": [0, 1], "range": [377, 3], "nice": false}, "axis": null},
  "text": {"field": "label"},
  "color": {"field": "f", "type": "nominal", "scale": {"domain": ["Mono", "Poly"], "range": ["#8c8c8c", "#0aa5ee"]}, "legend": null}
 }
},
{
 "data": {"values": [{"t": "2020-01-19T04:10:00", "label": "19/01/2020"}]},
 "mark": {"type": "text", "fontSize": 13, "align": "center", "baseline": "middle", "color": "black"},
 "encoding": {
  "y": {"datum": -0.1096, "type": "quantitative", "scale": {"domain": [0, 1], "range": [377, 3], "nice": false}, "axis": null},
  "text": {"field": "label"}
 }
}
],
"resolve": {"scale": {"y": "independent", "color": "independent"}},
"config": {
 "font": "Liberation Sans",
 "view": {"stroke": null},
 "axis": {"labelColor": "black", "titleColor": "black", "domainColor": "black", "tickColor": "black"}
}
}
